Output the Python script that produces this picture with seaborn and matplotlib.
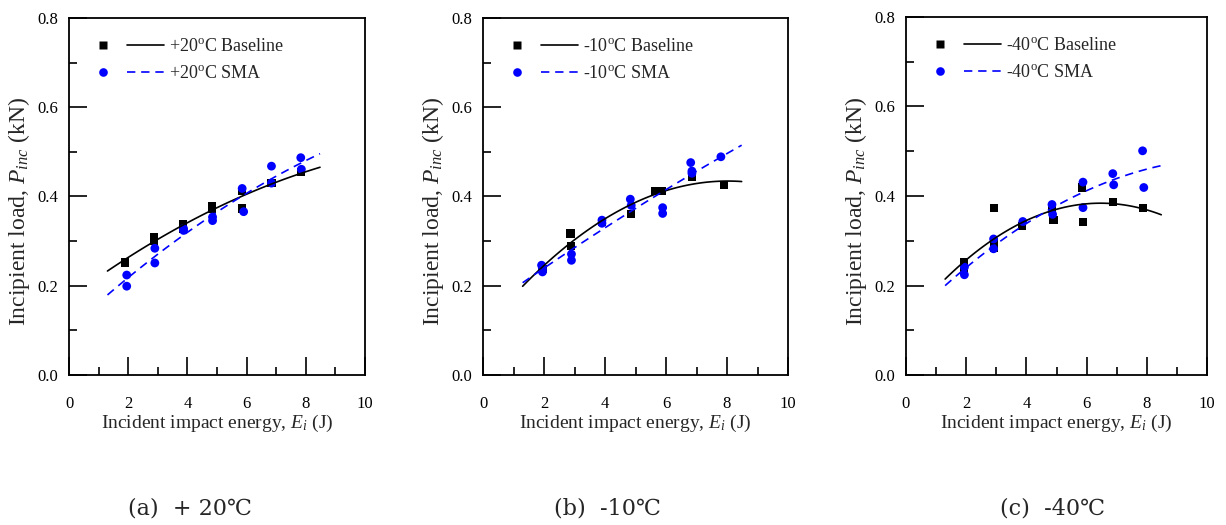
import numpy as np
import matplotlib
matplotlib.use("Agg")
import matplotlib.pyplot as plt
import seaborn as sns
from matplotlib.lines import Line2D
from matplotlib.legend_handler import HandlerTuple
from matplotlib.ticker import MultipleLocator, FormatStrFormatter

# ---- data ----
temps = ["+20", "-10", "-40"]
captions = ["(a)  + 20\u2103", "(b)  -10\u2103", "(c)  -40\u2103"]

# +20 C
base20_x = [1.90, 2.87, 2.87, 3.84, 3.84, 4.83, 4.83, 5.84, 5.84, 6.84, 7.83]
base20_y = [0.252, 0.310, 0.300, 0.338, 0.328, 0.378, 0.372, 0.412, 0.373, 0.430, 0.455]
sma20_x = [1.95, 1.95, 2.90, 2.90, 3.87, 3.87, 4.85, 4.85, 5.85, 5.90, 6.84, 6.84, 7.83, 7.85]
sma20_y = [0.224, 0.199, 0.284, 0.251, 0.328, 0.324, 0.354, 0.346, 0.418, 0.366, 0.468, 0.430, 0.487, 0.461]

# -10 C
base10_x = [1.95, 2.87, 2.90, 3.90, 4.86, 5.64, 5.86, 6.85, 7.89]
base10_y = [0.238, 0.317, 0.290, 0.343, 0.360, 0.412, 0.412, 0.444, 0.425]
sma10_x = [1.92, 1.95, 1.95, 2.90, 2.90, 3.90, 3.90, 4.83, 4.86, 5.89, 5.89, 6.81, 6.85, 6.85, 7.80]
sma10_y = [0.246, 0.238, 0.231, 0.271, 0.257, 0.347, 0.340, 0.394, 0.380, 0.375, 0.362, 0.476, 0.457, 0.452, 0.489]

# -40 C (some squares sit behind the circles)
base40_x = [1.92, 1.94, 2.91, 2.91, 2.91, 3.85, 4.85, 4.90, 5.85, 5.88, 6.88, 7.87]
base40_y = [0.252, 0.232, 0.373, 0.296, 0.285, 0.333, 0.372, 0.347, 0.419, 0.341, 0.387, 0.374]
sma40_x = [1.94, 1.94, 2.91, 2.91, 3.88, 4.85, 4.87, 5.88, 5.88, 6.87, 6.90, 7.86, 7.90]
sma40_y = [0.241, 0.224, 0.304, 0.282, 0.343, 0.381, 0.359, 0.431, 0.374, 0.450, 0.425, 0.501, 0.419]

base_x = [base20_x, base10_x, base40_x]
base_y = [base20_y, base10_y, base40_y]
sma_x = [sma20_x, sma10_x, sma40_x]
sma_y = [sma20_y, sma10_y, sma40_y]

fit_range = (1.3, 8.48)

# ---- style ----
sns.set_style("ticks")
plt.rcParams['font.family'] = ['Liberation Serif', 'DejaVu Serif']
plt.rcParams['mathtext.fontset'] = 'custom'
plt.rcParams['mathtext.rm'] = 'Liberation Serif'
plt.rcParams['mathtext.it'] = 'Liberation Serif:italic'
plt.rcParams['axes.linewidth'] = 1.3

fig = plt.figure(figsize=(12.26, 5.25), dpi=100)
W, H = 1226.0, 525.0
# axes boxes in pixels: left, right, top, bottom
boxes = [(69, 365, 18, 375), (483, 788, 18, 375), (906, 1207, 17, 375)]
cap_x = [190, 607, 1052]

for i in range(3):
    l, r, t, b = boxes[i]
    aw, ah = float(r - l), float(b - t)
    ax = fig.add_axes([l / W, (H - b) / H, aw / W, ah / H])

    # fitted curves through seaborn, spanning the drawn range
    ax.set_xlim(*fit_range)
    sns.regplot(x=np.array(base_x[i]), y=np.array(base_y[i]), order=2, ci=None,
                truncate=False, scatter=False, ax=ax,
                line_kws=dict(color='black', lw=1.2, zorder=4))
    sns.regplot(x=np.array(sma_x[i]), y=np.array(sma_y[i]), order=2, ci=None,
                truncate=False, scatter=False, ax=ax,
                line_kws=dict(color='blue', lw=1.2, ls=(0, (5, 3.5)), zorder=4))

    sns.scatterplot(x=base_x[i], y=base_y[i], marker='s', s=34, color='black',
                    edgecolor='none', ax=ax, zorder=2)
    sns.scatterplot(x=sma_x[i], y=sma_y[i], marker='o', s=40, color='blue',
                    edgecolor='none', ax=ax, zorder=3)

    ax.set_xlim(0, 10)
    ax.set_ylim(0, 0.8)
    ax.xaxis.set_major_locator(MultipleLocator(2))
    ax.xaxis.set_minor_locator(MultipleLocator(1))
    ax.yaxis.set_major_locator(MultipleLocator(0.2))
    ax.yaxis.set_minor_locator(MultipleLocator(0.1))
    ax.yaxis.set_major_formatter(FormatStrFormatter('%.1f'))
    ax.tick_params(which='both', direction='in', top=False, right=False, width=1.2,
                   labelsize=12, colors='black')
    ax.tick_params(which='major', length=13)
    ax.tick_params(which='minor', length=6)
    ax.tick_params(axis='x', which='major', pad=15)
    ax.tick_params(axis='y', which='major', pad=8)
    for sp in ax.spines.values():
        sp.set_visible(True)
        sp.set_color('black')

    ax.set_xlabel(r"Incident impact energy, $E_i$ (J)", fontsize=14, labelpad=1)
    ax.set_ylabel(r"Incipient load, $P_{inc}$ (kN)", fontsize=17)
    # label sits ~37 px left of the spine, centred a bit below the axes middle
    ax.yaxis.set_label_coords(-37 / aw, (b - 211) / ah)

    h_base = (Line2D([], [], ls='none', marker='s', ms=5.8, color='black', mec='none'),
              Line2D([], [], color='black', lw=1.2))
    h_sma = (Line2D([], [], ls='none', marker='o', ms=6.2, color='blue', mec='none'),
             Line2D([], [], color='blue', lw=1.2, ls=(0, (5, 3.5))))
    ax.legend([h_base, h_sma],
              [temps[i] + r"$^{\rm o}$C Baseline", temps[i] + r"$^{\rm o}$C SMA"],
              handler_map={tuple: HandlerTuple(ndivide=None, pad=0.3)},
              loc='upper left', bbox_to_anchor=(15.5 / aw, 1 - 20 / ah),
              borderaxespad=0, borderpad=0, frameon=False, fontsize=13,
              handlelength=4.4, handletextpad=0.3, labelspacing=0.55)

    fig.text(cap_x[i] / W, 1 - 508 / H, captions[i], ha='center', va='center',
             fontsize=16, family=['DejaVu Serif', 'Noto Sans CJK KR'])

fig.savefig("out.png", dpi=100)
